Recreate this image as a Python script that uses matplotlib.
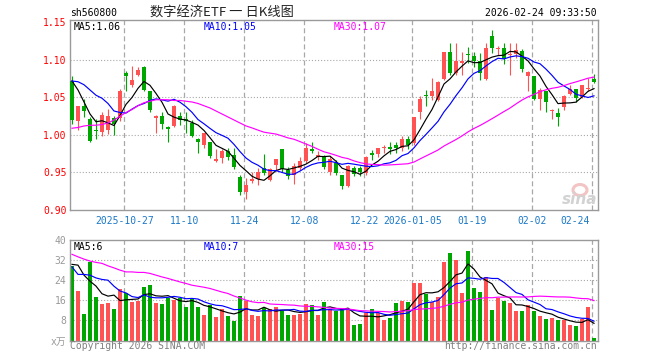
import numpy as np
import matplotlib
matplotlib.use('Agg')
import matplotlib.pyplot as plt
from matplotlib.patches import Ellipse
from matplotlib.transforms import blended_transform_factory

plt.rcParams['font.family'] = ['DejaVu Sans Mono', 'Noto Sans CJK SC']
plt.rcParams['lines.scale_dashes'] = False

code = 'sh560800'
title = '数字经济ETF 一 日K线图'
stamp = '2026-02-24 09:33:50'

# daily OHLC (88 sessions)
opens = [1.072, 1.018, 1.039, 1.021, 1.007, 1.004, 1.007, 1.022, 1.022, 1.082,
         1.067, 1.080, 1.091, 1.058, 1.022, 1.025, 1.010, 1.012, 1.025, 1.021,
         1.016, 0.995, 0.987, 0.991, 0.965, 0.969, 0.978, 0.973, 0.944, 0.924,
         0.938, 0.941, 0.956, 0.940, 0.960, 0.981, 0.953, 0.947, 0.956, 0.965,
         0.981, 0.970, 0.972, 0.950, 0.963, 0.947, 0.932, 0.956, 0.956, 0.949,
         0.976, 0.975, 0.983, 0.984, 0.987, 0.982, 0.994, 0.989, 1.030, 1.053,
         1.052, 1.047, 1.074, 1.111, 1.082, 1.096, 1.108, 1.105, 1.099, 1.074,
         1.132, 1.114, 1.116, 1.106, 1.108, 1.112, 1.079, 1.078, 1.048, 1.058,
         1.032, 1.029, 1.037, 1.055, 1.061, 1.050, 1.061, 1.075]
highs = [1.079, 1.039, 1.048, 1.024, 1.021, 1.030, 1.034, 1.025, 1.061, 1.085,
         1.092, 1.091, 1.092, 1.058, 1.026, 1.030, 1.012, 1.040, 1.031, 1.030,
         1.020, 0.996, 1.003, 0.991, 0.981, 0.981, 0.982, 0.982, 0.947, 0.942,
         0.951, 0.956, 0.975, 0.956, 0.968, 0.981, 0.957, 0.962, 0.970, 0.989,
         0.991, 0.979, 0.973, 0.972, 0.967, 0.947, 0.960, 0.958, 0.959, 0.972,
         0.980, 0.983, 0.987, 0.990, 0.991, 0.999, 0.999, 1.024, 1.052, 1.060,
         1.076, 1.072, 1.111, 1.122, 1.123, 1.110, 1.117, 1.111, 1.109, 1.123,
         1.140, 1.119, 1.122, 1.122, 1.122, 1.114, 1.085, 1.078, 1.062, 1.058,
         1.034, 1.036, 1.053, 1.067, 1.061, 1.067, 1.076, 1.081]
lows = [1.015, 1.007, 1.024, 0.990, 0.994, 0.999, 1.001, 1.000, 1.018, 1.058,
        1.064, 1.078, 1.058, 1.030, 1.003, 1.008, 0.990, 1.011, 1.013, 1.003,
        0.997, 0.976, 0.982, 0.969, 0.964, 0.962, 0.967, 0.954, 0.920, 0.914,
        0.936, 0.933, 0.947, 0.938, 0.952, 0.951, 0.941, 0.935, 0.953, 0.962,
        0.976, 0.966, 0.954, 0.947, 0.947, 0.928, 0.931, 0.945, 0.945, 0.947,
        0.967, 0.971, 0.976, 0.975, 0.976, 0.978, 0.981, 0.987, 1.021, 1.039,
        1.047, 1.045, 1.073, 1.080, 1.080, 1.080, 1.096, 1.091, 1.073, 1.073,
        1.109, 1.107, 1.095, 1.080, 1.102, 1.084, 1.058, 1.046, 1.033, 1.030,
        1.021, 1.012, 1.033, 1.053, 1.044, 1.049, 1.058, 1.069]
closes = [1.020, 1.039, 1.032, 0.992, 1.005, 1.027, 1.025, 1.014, 1.059, 1.079,
          1.073, 1.086, 1.060, 1.033, 1.025, 1.014, 1.008, 1.039, 1.020, 1.019,
          0.998, 0.990, 1.003, 0.972, 0.968, 0.978, 0.970, 0.957, 0.924, 0.933,
          0.941, 0.951, 0.949, 0.954, 0.968, 0.954, 0.945, 0.959, 0.965, 0.983,
          0.978, 0.973, 0.957, 0.968, 0.949, 0.932, 0.958, 0.948, 0.951, 0.970,
          0.973, 0.983, 0.984, 0.981, 0.982, 0.994, 0.987, 1.024, 1.048, 1.052,
          1.059, 1.071, 1.110, 1.082, 1.098, 1.098, 1.106, 1.098, 1.083, 1.116,
          1.116, 1.116, 1.101, 1.108, 1.113, 1.088, 1.084, 1.048, 1.060, 1.044,
          1.033, 1.024, 1.052, 1.061, 1.049, 1.067, 1.062, 1.070]
# volume, x 10k
vols = [29.7, 19.6, 10.4, 31.3, 17.3, 14.4, 14.9, 12.4, 20.4, 18.9,
        15.2, 15.7, 21.2, 22.0, 14.8, 14.4, 16.9, 16.0, 16.9, 13.2,
        16.4, 13.3, 10.1, 14.0, 9.2, 12.4, 9.6, 7.7, 17.6, 15.9,
        10.0, 9.6, 13.1, 12.4, 13.3, 11.9, 10.0, 10.0, 10.7, 14.7,
        14.3, 10.0, 15.2, 12.7, 11.7, 12.4, 12.4, 6.0, 6.4, 11.1,
        12.4, 11.1, 8.0, 8.8, 14.8, 15.6, 15.2, 22.8, 22.8, 18.7,
        15.3, 17.3, 31.3, 34.8, 32.0, 18.8, 35.6, 20.8, 19.2, 25.2,
        12.0, 17.1, 15.6, 14.8, 11.6, 11.6, 14.0, 11.6, 9.6, 8.4,
        8.8, 8.0, 8.0, 6.1, 5.6, 8.4, 13.3, 0.8]

# moving-average values at the left edge (history before the window)
ma5_head = [1.072, 1.060, 1.044, 1.028]
ma10_head = [1.072, 1.071, 1.067, 1.060, 1.053, 1.049, 1.042, 1.032, 1.030]
ma30_head = [1.009, 1.010, 1.012, 1.013, 1.013, 1.014, 1.016, 1.020, 1.025, 1.030,
             1.034, 1.039, 1.043, 1.045, 1.047, 1.047, 1.047, 1.046, 1.046, 1.045,
             1.044, 1.042, 1.039, 1.036, 1.032, 1.028, 1.024, 1.020, 1.016]
vma5_head = [30.3, 30.0, 26.0, 23.6]
vma10_head = [29.3, 26.3, 26.3, 26.0, 24.9, 24.3, 24.0, 21.6, 19.7]
vma30_head = [34.3, 33.3, 32.4, 31.6, 31.1, 30.7, 29.7, 28.9, 28.0, 27.3,
              27.3, 27.1, 27.1, 26.7, 26.0, 25.3, 24.7, 24.0, 23.3, 22.7,
              22.0, 21.6, 21.2, 20.7, 20.0, 19.3, 18.7, 17.7, 16.9]

date_idx = [9, 19, 29, 39, 49, 57, 67, 77, 87]
date_labels = ['2025-10-27', '11-10', '11-24', '12-08', '12-22',
               '2026-01-05', '01-19', '02-02', '02-24']
price_ticks = [0.90, 0.95, 1.00, 1.05, 1.10, 1.15]
vol_ticks = [0, 8, 16, 24, 32, 40]
vol_tick_labels = ['x万', '8', '16', '24', '32', '40']
ma_labels = ['MA5:1.06', 'MA10:1.05', 'MA30:1.07']
vma_labels = ['MA5:6', 'MA10:7', 'MA30:15']


def moving_avg(vals, n, head):
    vals = np.asarray(vals)
    tail = [vals[i - n + 1:i + 1].mean() for i in range(n - 1, len(vals))]
    return np.array(list(head) + tail)


RED = '#ff5252'
GREEN = '#00a600'
GRID = '#a8a8a8'
FRAME = '#9a9a9a'
ma_colors = ['black', '#0000ff', '#ff00ff']

o = np.array(opens); h = np.array(highs); l = np.array(lows); c = np.array(closes)
x = np.arange(len(c))
up = c >= o
colors = np.where(up, RED, GREEN)

W, H = 660, 360
fig = plt.figure(figsize=(W / 100, H / 100), dpi=100)
ax1 = fig.add_axes([70 / W, 150 / H, 528 / W, 190 / H])
ax2 = fig.add_axes([70 / W, 19.5 / H, 528 / W, 100.5 / H])

for ax in (ax1, ax2):
    ax.set_xlim(-1 / 3, len(c) - 1 / 3)
    for s in ax.spines.values():
        s.set_color(FRAME)
        s.set_linewidth(1)
    ax.set_xticks([])
    for d in date_idx:
        ax.axvline(d - 0.3, color=GRID, lw=0.9, ls=(0, (3.6, 2.2)), zorder=0)

# sina watermark
fig.add_artist(Ellipse((580 / W, 1 - 190 / H), 14 / W, 11 / H, transform=fig.transFigure,
                       facecolor='none', edgecolor='#f3c4c4', lw=2.2, zorder=1))
fig.text(597 / W, 1 - 199 / H, 'sina', ha='right', va='center', fontsize=11,
         color='#d2d2d2', weight='bold', style='italic', family='DejaVu Sans', zorder=1)

# price panel
ax1.set_ylim(0.90, 1.1533)
ax1.patch.set_alpha(0)
for p in price_ticks[1:-1]:
    ax1.axhline(p, color=GRID, lw=0.8, ls=(0, (0.8, 1.4)), zorder=0)
ax1.vlines(x, l, h, colors=colors, lw=0.8, zorder=2)
body_lo = np.minimum(o, c)
body_h = np.maximum(np.abs(c - o), 0.0014)
ax1.bar(x, body_h, bottom=body_lo, width=0.8, color=colors, linewidth=0, zorder=3)

ma_lines = [moving_avg(c, 5, ma5_head), moving_avg(c, 10, ma10_head),
            moving_avg(c, 30, ma30_head)]
for m, col in zip(ma_lines, ma_colors):
    ax1.plot(x, m, color=col, lw=0.85, zorder=4)

ax1.set_yticks(price_ticks)
ax1.set_yticklabels(['%.2f' % p for p in price_ticks])
ax1.tick_params(axis='y', length=0, pad=2.5, labelcolor='red', labelsize=7)

tr = blended_transform_factory(ax1.transData, fig.transFigure)
for d, lab in zip(date_idx, date_labels):
    if d == date_idx[-1]:
        ax1.text(d - 0.75, 1 - 221 / H, lab, transform=tr, ha='right', va='center',
                 color='#1a78c8', fontsize=7)
    else:
        ax1.text(d - 0.3, 1 - 221 / H, lab, transform=tr, ha='center', va='center',
                 color='#1a78c8', fontsize=7)

# volume panel
ax2.set_ylim(0, 40)
for v in vol_ticks[1:-1]:
    ax2.axhline(v, color=GRID, lw=0.8, ls=(0, (0.8, 1.4)), zorder=0)
ax2.bar(x, vols, width=0.82, color=colors, linewidth=0, zorder=2)
vma_lines = [moving_avg(vols, 5, vma5_head), moving_avg(vols, 10, vma10_head),
             moving_avg(vols, 30, vma30_head)]
for m, col in zip(vma_lines, ma_colors):
    ax2.plot(x, m, color=col, lw=0.85, zorder=3)
ax2.set_yticks(vol_ticks)
ax2.set_yticklabels(vol_tick_labels)
ax2.tick_params(axis='y', length=0, pad=2.5, labelcolor='#999999', labelsize=7)

# header / legends / footer
fig.text(70 / W, 1 - 13 / H, code, ha='left', va='center', fontsize=7)
fig.text(150 / W, 1 - 13 / H, title, ha='left', va='center', fontsize=9.5,
         family=['Noto Sans CJK SC', 'DejaVu Sans'], color='#222222')
fig.text(597 / W, 1 - 13 / H, stamp, ha='right', va='center', fontsize=7)
for xp, lab, col in zip([74, 204, 334], ma_labels, ma_colors):
    fig.text(xp / W, 1 - 27 / H, lab, ha='left', va='center', fontsize=7, color=col)
for xp, lab, col in zip([74, 204, 334], vma_labels, ma_colors):
    fig.text(xp / W, 1 - 247 / H, lab, ha='left', va='center', fontsize=7, color=col)
fig.text(70 / W, 1 - 346 / H, 'Copyright 2026 SINA.COM', ha='left', va='center',
         fontsize=7, color='#808080')
fig.text(597 / W, 1 - 346 / H, 'http://finance.sina.com.cn', ha='right', va='center',
         fontsize=7, color='#808080')

fig.savefig('out.png', dpi=100)
